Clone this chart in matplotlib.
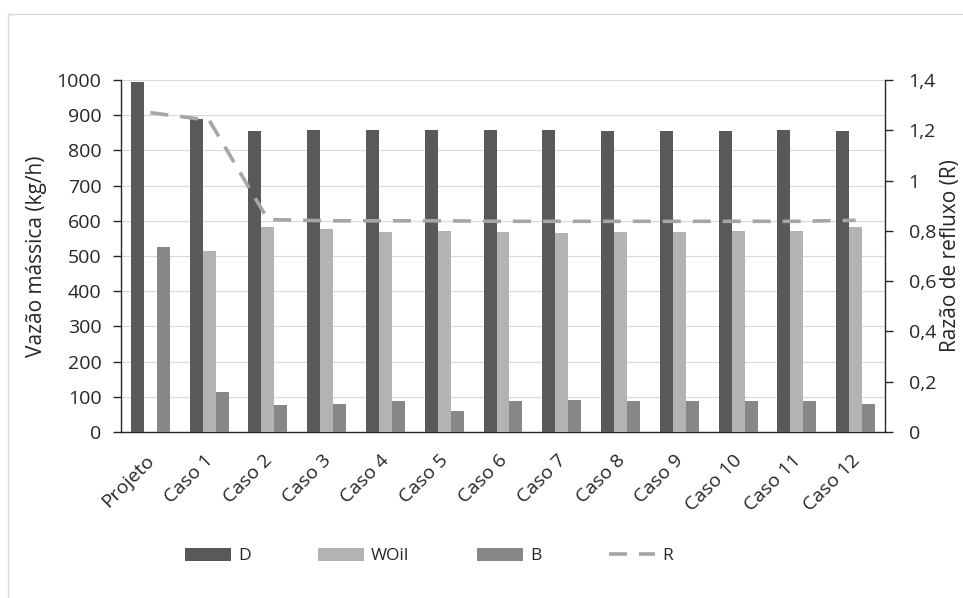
import numpy as np
import matplotlib
matplotlib.use('Agg')
import matplotlib.pyplot as plt
import matplotlib.transforms as mtransforms
from matplotlib.lines import Line2D
from matplotlib.ticker import FuncFormatter

# Categories and series
casos = ['Projeto', 'Caso 1', 'Caso 2', 'Caso 3', 'Caso 4', 'Caso 5', 'Caso 6',
         'Caso 7', 'Caso 8', 'Caso 9', 'Caso 10', 'Caso 11', 'Caso 12']
D = [994, 888, 855, 858, 858, 858, 858, 858, 855, 855, 855, 858, 855]
WOil = [0, 514, 582, 578, 568, 572, 568, 565, 568, 568, 572, 572, 582]
B = [525, 113, 76, 79, 89, 59, 89, 92, 89, 89, 89, 89, 79]
R = [1.27, 1.24, 0.845, 0.84, 0.84, 0.84, 0.838, 0.838, 0.838, 0.838, 0.838, 0.838, 0.842]

plt.rcParams['font.family'] = ['Open Sans', 'DejaVu Sans']
FS = 14
TXT = '#262626'

W, H = 963, 598
fig = plt.figure(figsize=(W / 100, H / 100), dpi=100)
ax = fig.add_axes([121 / W, (H - 432) / H, 764 / W, 352 / H])
ax2 = ax.twinx()

# light frame of the chart area (cut off at right/bottom in the reference)
fig.add_artist(Line2D([8 / W, 1], [1 - 14 / H, 1 - 14 / H], transform=fig.transFigure,
                      color='#d9d9d9', lw=1))
fig.add_artist(Line2D([8 / W, 8 / W], [0, 1 - 14 / H], transform=fig.transFigure,
                      color='#d9d9d9', lw=1))

x = np.arange(len(casos))
bw = 0.221
ax.bar(x - bw, D, bw, color='#595959', label='D', zorder=3)
ax.bar(x, WOil, bw, color='#b3b3b3', label='WOil', zorder=3)
ax.bar(x + bw, B, bw, color='#878787', label='B', zorder=3)
ax2.plot(x, R, color='#a6a6a6', lw=2.6, dashes=(5, 3.3), label='R')

ax.set_xlim(-0.5, len(casos) - 0.5)
ax.set_ylim(0, 1000)
ax.set_yticks(np.arange(0, 1001, 100))
ax2.set_ylim(0, 1.4)
ax2.set_yticks(np.arange(0, 1.41, 0.2))
ax2.yaxis.set_major_formatter(FuncFormatter(lambda v, p: f'{v:.1f}'.rstrip('0').rstrip('.').replace('.', ',')))

ax.grid(axis='y', color='#d9d9d9', lw=0.8, zorder=0)
ax.set_axisbelow(True)

for a in (ax, ax2):
    a.spines['top'].set_visible(False)
    for s in ('left', 'right', 'bottom'):
        a.spines[s].set_color('#262626')
        a.spines[s].set_linewidth(1.0)
ax.spines['right'].set_visible(False)
ax2.spines['left'].set_visible(False)
ax2.spines['bottom'].set_visible(False)

ax.tick_params(axis='y', length=6, width=1, color='#262626', pad=8, labelsize=FS, labelcolor=TXT)
ax2.tick_params(axis='y', length=6, width=1, color='#262626', pad=11, labelsize=FS, labelcolor=TXT)
ax.tick_params(axis='x', length=0, pad=14, labelsize=FS, labelcolor=TXT)
ax.set_xticks(x)
ax.set_xticklabels(casos, rotation=45, ha='right', va='top', rotation_mode='anchor')
# nudge the rotated labels a few pixels left, as in the reference
shift = mtransforms.ScaledTranslation(-5 / 100, 0, fig.dpi_scale_trans)
for t in ax.get_xticklabels():
    t.set_transform(t.get_transform() + shift)

ax.set_ylabel('Vazão mássica (kg/h)', fontsize=FS + 1, color=TXT)
ax.yaxis.set_label_coords(-0.097, 0.5)
ax2.set_ylabel('Razão de refluxo (R)', fontsize=FS + 1, color=TXT)
ax2.yaxis.set_label_coords(1.072, 0.5)

h1, l1 = ax.get_legend_handles_labels()
h2, l2 = ax2.get_legend_handles_labels()
fig.legend(h1 + h2, l1 + l2, ncol=4, loc='center left', bbox_to_anchor=(185 / W, (H - 556) / H),
           frameon=False, fontsize=12.5, labelcolor=TXT, handlelength=2.65, handleheight=0.75,
           handletextpad=0.4, columnspacing=3.9, borderpad=0, borderaxespad=0)

fig.savefig('out.png', dpi=100)
